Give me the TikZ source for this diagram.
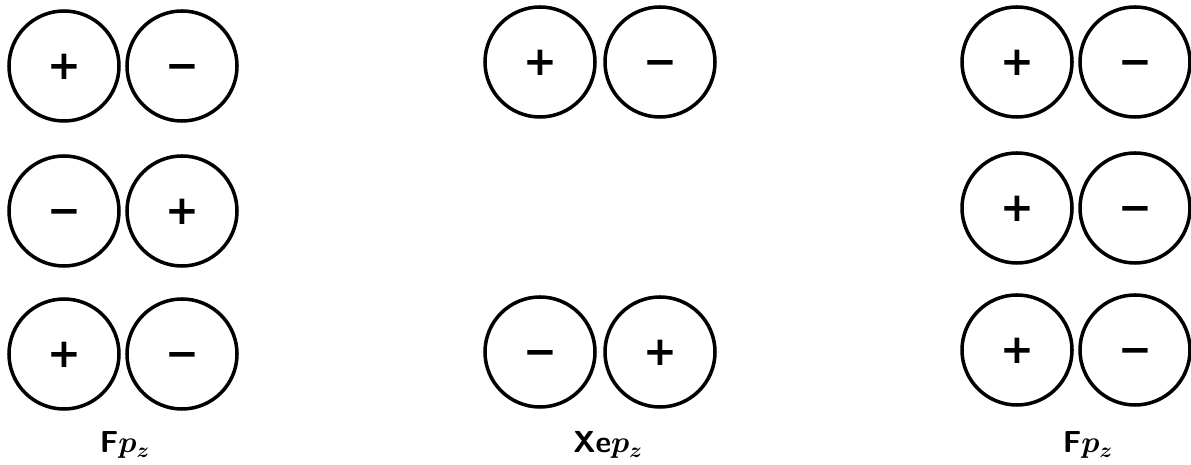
\documentclass[tikz,border=0pt]{standalone}
\usepackage{amsmath}
\usepackage{bm}
\usepackage{fontspec}
\usepackage{tikz}
\usepackage{xcolor}
\newfontfamily\signfont{DejaVu Sans}
\definecolor{InkColor}{HTML}{000000}
\newcommand\orbplus{+}
\newcommand\orbminus{−}
\newcommand\labfp{F$\bm{p}_{\bm{z}}$}
\newcommand\labxe{Xe$\bm{p}_{\bm{z}}$}
\tikzset{orb/.style={circle, minimum size=2.2cm, inner sep=0pt, draw=InkColor, line width=2pt, text=InkColor, text height=15pt, text depth=0pt, font=\signfont\bfseries\fontsize{23}{23}\selectfont}}
\tikzset{lbl/.style={anchor=base, inner sep=0pt, text=InkColor, font=\LARGE\sffamily\bfseries}}

\begin{document}
\begin{tikzpicture}
\useasboundingbox (0, 0) rectangle (23.82, 9.3);
% left pair column
\node[orb] (l1a) at (1.28, 7.98) {\orbplus};
\node[orb] (l1b) at (3.64, 7.98) {\orbminus};
\node[orb] (l2a) at (1.28, 5.08) {\orbminus};
\node[orb] (l2b) at (3.64, 5.08) {\orbplus};
\node[orb] (l3a) at (1.28, 2.22) {\orbplus};
\node[orb] (l3b) at (3.64, 2.22) {\orbminus};
% middle pair column
\node[orb] (m1a) at (10.8, 8.06) {\orbplus};
\node[orb] (m1b) at (13.2, 8.06) {\orbminus};
\node[orb] (m3a) at (10.8, 2.26) {\orbminus};
\node[orb] (m3b) at (13.2, 2.26) {\orbplus};
% right pair column
\node[orb] (r1a) at (20.34, 8.06) {\orbplus};
\node[orb] (r1b) at (22.7, 8.06) {\orbminus};
\node[orb] (r2a) at (20.34, 5.14) {\orbplus};
\node[orb] (r2b) at (22.7, 5.14) {\orbminus};
\node[orb] (r3a) at (20.34, 2.3) {\orbplus};
\node[orb] (r3b) at (22.7, 2.3) {\orbminus};
% labels
\node[lbl] (fl) at (2.5, 0.24) {\labfp};
\node[lbl] (xe) at (12.16, 0.24) {\labxe};
\node[lbl] (fr) at (21.76, 0.24) {\labfp};
\end{tikzpicture}
\end{document}
